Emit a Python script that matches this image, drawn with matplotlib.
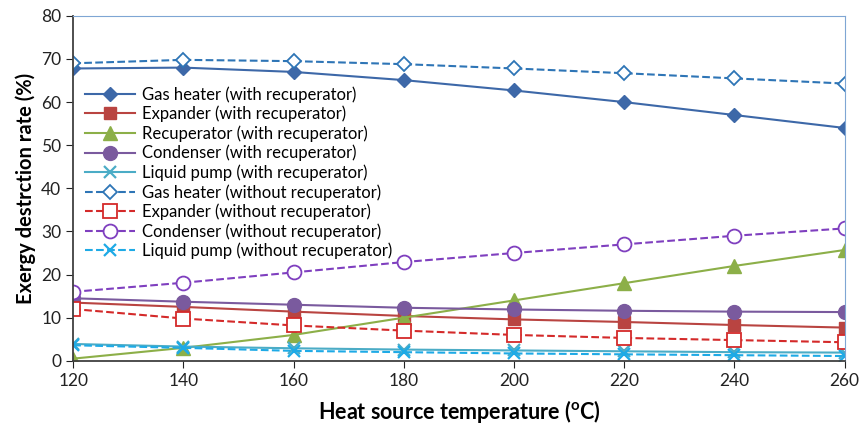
import matplotlib
matplotlib.use("Agg")
from matplotlib import pyplot as plt

plt.rcParams["font.family"] = ["Lato", "DejaVu Sans"]

# Temperatura de la fuente de calor (°C)
temperatura = [120, 140, 160, 180, 200, 220, 240, 260]

# Con recuperador
gas_heater_con = [67.8, 68.0, 67.0, 65.1, 62.7, 60.0, 57.0, 54.0]
expander_con = [13.5, 12.5, 11.4, 10.4, 9.6, 9.0, 8.3, 7.7]
recuperator_con = [0.5, 3.0, 6.0, 10.0, 14.0, 18.0, 22.0, 25.7]
condenser_con = [14.5, 13.7, 13.0, 12.3, 11.9, 11.6, 11.4, 11.3]
pump_con = [3.9, 3.3, 2.9, 2.6, 2.4, 2.2, 2.0, 1.9]

# Sin recuperador
gas_heater_sin = [69.0, 69.8, 69.5, 68.8, 67.8, 66.7, 65.5, 64.3]
expander_sin = [12.0, 9.8, 8.2, 7.0, 6.0, 5.3, 4.8, 4.3]
condenser_sin = [16.0, 18.1, 20.5, 22.9, 25.0, 27.0, 29.0, 30.7]
pump_sin = [3.6, 3.0, 2.3, 2.0, 1.7, 1.5, 1.3, 1.1]

fig = plt.figure(figsize=(8.61, 4.29), dpi=100)
ax = fig.add_axes([0.085, 0.159, 0.896, 0.804])

azul_osc = "#3D68A8"
rojo = "#B94441"
verde = "#8CAF48"
morado = "#7A5A9E"
cian = "#4BACC6"

ax.plot(temperatura, gas_heater_con, "-", color=azul_osc, marker="D", ms=7.5, lw=1.5,
        label="Gas heater (with recuperator)")
ax.plot(temperatura, expander_con, "-", color=rojo, marker="s", ms=8.5, lw=1.5,
        label="Expander (with recuperator)")
ax.plot(temperatura, recuperator_con, "-", color=verde, marker="^", ms=10, lw=1.5,
        label="Recuperator (with recuperator)")
ax.plot(temperatura, condenser_con, "-", color=morado, marker="o", ms=10, lw=1.5,
        label="Condenser (with recuperator)")
ax.plot(temperatura, pump_con, "-", color=cian, marker="x", ms=9, mew=1.6, lw=1.5,
        label="Liquid pump (with recuperator)")
ax.plot(temperatura, gas_heater_sin, "--", color="#2E75B6", marker="D", ms=7.5, mfc="white",
        mew=1.3, lw=1.5, label="Gas heater (without recuperator)")
ax.plot(temperatura, expander_sin, "--", color="#D42A2A", marker="s", ms=9.5, mfc="white",
        mew=1.3, lw=1.5, label="Expander (without recuperator)")
ax.plot(temperatura, condenser_sin, "--", color="#7F3FBF", marker="o", ms=10, mfc="white",
        mew=1.3, lw=1.5, label="Condenser (without recuperator)")
ax.plot(temperatura, pump_sin, "--", color="#1EAAE6", marker="x", ms=9, mew=1.6, lw=1.5,
        label="Liquid pump (without recuperator)")

ax.set_xlim(120, 260)
ax.set_ylim(0, 80)
ax.set_xticks(temperatura)
ax.set_yticks(range(0, 81, 10))
ax.tick_params(direction="out", labelsize=12.5, colors="#222222", length=5)

for lado in ["top", "right"]:
    ax.spines[lado].set_color("#7FA6D4")
for lado in ["left", "bottom"]:
    ax.spines[lado].set_color("#404040")
    ax.spines[lado].set_linewidth(1.3)

ax.set_xlabel("Heat source temperature ($\\mathregular{^{o}}$C)", fontsize=15.5,
              fontweight="bold", labelpad=7)
ax.set_ylabel("Exergy destrction rate (%)", fontsize=14.5, fontweight="bold")

leg = ax.legend(loc="upper left", bbox_to_anchor=(0.0, 0.83), frameon=False, fontsize=12,
                handlelength=3, labelspacing=0.18, borderaxespad=0.3, handletextpad=0.4)

fig.savefig("out.png", dpi=100)
